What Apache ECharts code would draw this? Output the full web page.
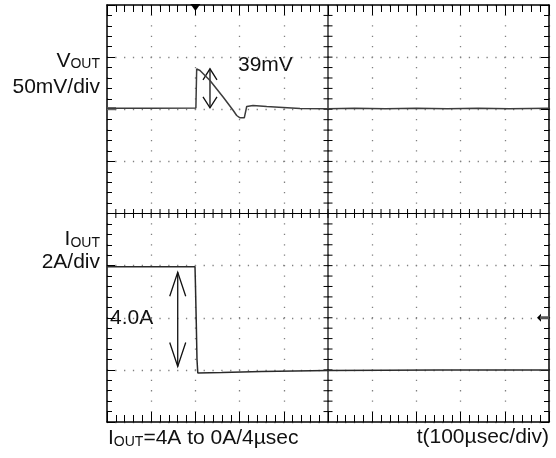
<!DOCTYPE html>
<html>
<head>
<meta charset="utf-8">
<script src="https://cdn.jsdelivr.net/npm/echarts@6/dist/echarts.min.js"></script>
<style>
  html, body { margin: 0; padding: 0; background: #fff; }
  #chart { width: 556px; height: 458px; }
</style>
</head>
<body>
<div id="chart"></div>
<script>
// screen is 10 div wide (100usec/div) and 8 div high, 0 at the centre line
const xMin = 0, xMax = 10, yMin = -4, yMax = 4;

// VOUT trace (div), 50mV/div
const voutT = [0, 1.0, 2.011, 2.029, 2.104, 2.33, 2.631, 2.857, 2.934, 3.009, 3.106, 3.161, 3.303, 3.613, 3.982, 4.367, 5.0, 5.6, 6.3, 7.0, 7.7, 8.4, 9.1, 10];
const voutV = [2.02, 2.02, 2.024, 2.776, 2.743, 2.552, 2.231, 1.976, 1.88, 1.836, 1.836, 2.053, 2.072, 2.053, 2.034, 2.014, 2.01, 2.02, 2.01, 2.02, 2.01, 2.02, 2.01, 2.02];

// IOUT trace (div), 2A/div
const ioutT = [0, 1.991, 2.002, 2.02, 2.036, 2.054, 2.081, 2.6, 3.5, 5.0, 7.5, 10];
const ioutI = [-1.02, -1.02, -1.4, -2.1, -2.8, -3.06, -3.06, -3.05, -3.03, -3.01, -3.0, -3.0];

// measurement arrows: x, top, bottom (div)
const arrowX = [2.33, 1.60];
const arrowTop = [2.776, -1.126];
const arrowBottom = [2.028, -2.935];

// scope markers
const trigTime = 2.0;     // trigger position (top)
const trigLevel = -2.0;   // trigger level (right)
const voutRef = 2.01;     // channel 1 reference (left)

const FONT = "'Liberation Sans', Arial, sans-serif";
const headW = [7, 8];
const headL = [11, 24];

function zip(a, b) {
  return a.map((v, i) => [v, b[i]]);
}

function frameAxis(position, min, max, tickLen, minorLen, dots) {
  return {
    type: 'value',
    position: position,
    min: min,
    max: max,
    interval: 1,
    axisLine: { show: true, onZero: false, lineStyle: { color: '#000', width: 1.5 } },
    axisTick: { show: true, inside: true, length: tickLen, lineStyle: { color: '#000', width: 1 } },
    minorTick: { show: true, splitNumber: 5, length: minorLen, lineStyle: { color: '#000', width: 1 } },
    axisLabel: { show: false },
    splitLine: dots
      ? { show: true, lineStyle: { color: '#808080', width: 1.3, type: dots, dashOffset: 0.65 } }
      : { show: false },
    minorSplitLine: { show: false }
  };
}

const chart = echarts.init(document.getElementById('chart'), null, { renderer: 'canvas' });

chart.setOption({
  animation: false,
  backgroundColor: '#fff',
  grid: { left: 107, right: 7, top: 5, bottom: 36, containLabel: false },
  xAxis: [
    frameAxis('bottom', xMin, xMax, 10, 7, [1.3, 9.125]),
    frameAxis('top', xMin, xMax, 10, 7, null)
  ],
  yAxis: [
    frameAxis('left', yMin, yMax, 8, 5, [1.3, 7.54]),
    frameAxis('right', yMin, yMax, 8, 5, null)
  ],
  series: [
    {
      name: 'VOUT',
      type: 'line',
      data: zip(voutT, voutV),
      showSymbol: false,
      lineStyle: { color: '#3c3c3c', width: 1.5 },
      z: 5
    },
    {
      name: 'IOUT',
      type: 'line',
      data: zip(ioutT, ioutI),
      showSymbol: false,
      lineStyle: { color: '#2a2a2a', width: 1.5 },
      z: 5
    },
    {
      // centre crosshair, markers and measurement arrows
      type: 'custom',
      data: [[0, 0]],
      clip: false,
      silent: true,
      z: 4,
      renderItem: function (params, api) {
        const c = (x, y) => api.coord([x, y]);
        const kids = [];
        const seg = (x1, y1, x2, y2, w, col) => kids.push({
          type: 'line',
          shape: { x1: x1, y1: y1, x2: x2, y2: y2 },
          style: { stroke: col || '#000', lineWidth: w || 1 }
        });
        // centre lines
        const l = c(xMin, 0), r = c(xMax, 0);
        seg(l[0], l[1], r[0], r[1], 1.2);
        const t = c(5, yMax), b = c(5, yMin);
        seg(t[0], t[1], b[0], b[1], 1.2);
        for (let k = 1; k < 50; k++) {
          const p = c(k / 5, 0);
          seg(p[0], p[1] - 4.5, p[0], p[1] + 4.5, 1);
        }
        for (let k = 1; k < 40; k++) {
          const p = c(5, yMin + k / 5);
          seg(p[0] - 4.5, p[1], p[0] + 4.5, p[1], 1);
        }
        // trigger position marker
        const tp = c(trigTime, yMax);
        kids.push({
          type: 'polygon',
          shape: { points: [[tp[0] - 5, tp[1] - 1], [tp[0] + 5, tp[1] - 1], [tp[0], tp[1] + 6]] },
          style: { fill: '#000' }
        });
        // trigger level marker
        const tl = c(xMax, trigLevel);
        kids.push({
          type: 'polygon',
          shape: { points: [[tl[0] - 12, tl[1]], [tl[0] - 8, tl[1] - 4], [tl[0] - 8, tl[1] + 4]] },
          style: { fill: '#000' }
        });
        seg(tl[0] - 9, tl[1], tl[0], tl[1], 3, '#555');
        // channel reference marker
        const vr = c(xMin, voutRef);
        seg(vr[0], vr[1], vr[0] + 9, vr[1], 3, '#666');
        // measurement arrows
        for (let i = 0; i < arrowX.length; i++) {
          const a = c(arrowX[i], arrowTop[i]);
          const z = c(arrowX[i], arrowBottom[i]);
          seg(a[0], a[1], z[0], z[1], 1.3, '#111');
          kids.push({
            type: 'polyline',
            shape: { points: [[a[0] - headW[i], a[1] + headL[i]], [a[0], a[1]], [a[0] + headW[i], a[1] + headL[i]]] },
            style: { stroke: '#111', lineWidth: 1.3, fill: null }
          });
          kids.push({
            type: 'polyline',
            shape: { points: [[z[0] - headW[i], z[1] - headL[i]], [z[0], z[1]], [z[0] + headW[i], z[1] - headL[i]]] },
            style: { stroke: '#111', lineWidth: 1.3, fill: null }
          });
        }
        return { type: 'group', children: kids };
      }
    }
  ],
  graphic: [
    {
      type: 'text', x: 100, y: 59.5,
      style: {
        text: '{m|V}{s|OUT}', align: 'right', verticalAlign: 'middle',
        rich: {
          m: { font: '21px ' + FONT, fill: '#111', lineHeight: 24, verticalAlign: 'bottom' },
          s: { font: '14px ' + FONT, fill: '#111', lineHeight: 19, verticalAlign: 'bottom' }
        }
      }
    },
    {
      type: 'text', x: 100, y: 87.5,
      style: { text: '50mV/div', align: 'right', verticalAlign: 'middle', font: '21px ' + FONT, fill: '#111' }
    },
    {
      type: 'text', x: 100, y: 238,
      style: {
        text: '{m|I}{s|OUT}', align: 'right', verticalAlign: 'middle',
        rich: {
          m: { font: '21px ' + FONT, fill: '#111', lineHeight: 24, verticalAlign: 'bottom' },
          s: { font: '14px ' + FONT, fill: '#111', lineHeight: 19, verticalAlign: 'bottom' }
        }
      }
    },
    {
      type: 'text', x: 100, y: 262.5,
      style: { text: '2A/div', align: 'right', verticalAlign: 'middle', font: '21px ' + FONT, fill: '#111' }
    },
    {
      type: 'text', x: 238, y: 65.5,
      style: { text: '39mV', align: 'left', verticalAlign: 'middle', font: '21px ' + FONT, fill: '#111' }
    },
    {
      type: 'text', x: 110, y: 318,
      style: { text: '4.0A', align: 'left', verticalAlign: 'middle', font: '21px ' + FONT, fill: '#111' }
    },
    {
      type: 'text', x: 108, y: 437,
      style: {
        text: '{m|I}{s|OUT}{m|=4A to 0A/4µsec}', align: 'left', verticalAlign: 'middle',
        rich: {
          m: { font: '21px ' + FONT, fill: '#111', lineHeight: 24, verticalAlign: 'bottom' },
          s: { font: '14px ' + FONT, fill: '#111', lineHeight: 19, verticalAlign: 'bottom' }
        }
      }
    },
    {
      type: 'text', x: 549, y: 437,
      style: { text: 't(100µsec/div)', align: 'right', verticalAlign: 'middle', font: '21px ' + FONT, fill: '#111' }
    }
  ]
});
</script>
</body>
</html>
